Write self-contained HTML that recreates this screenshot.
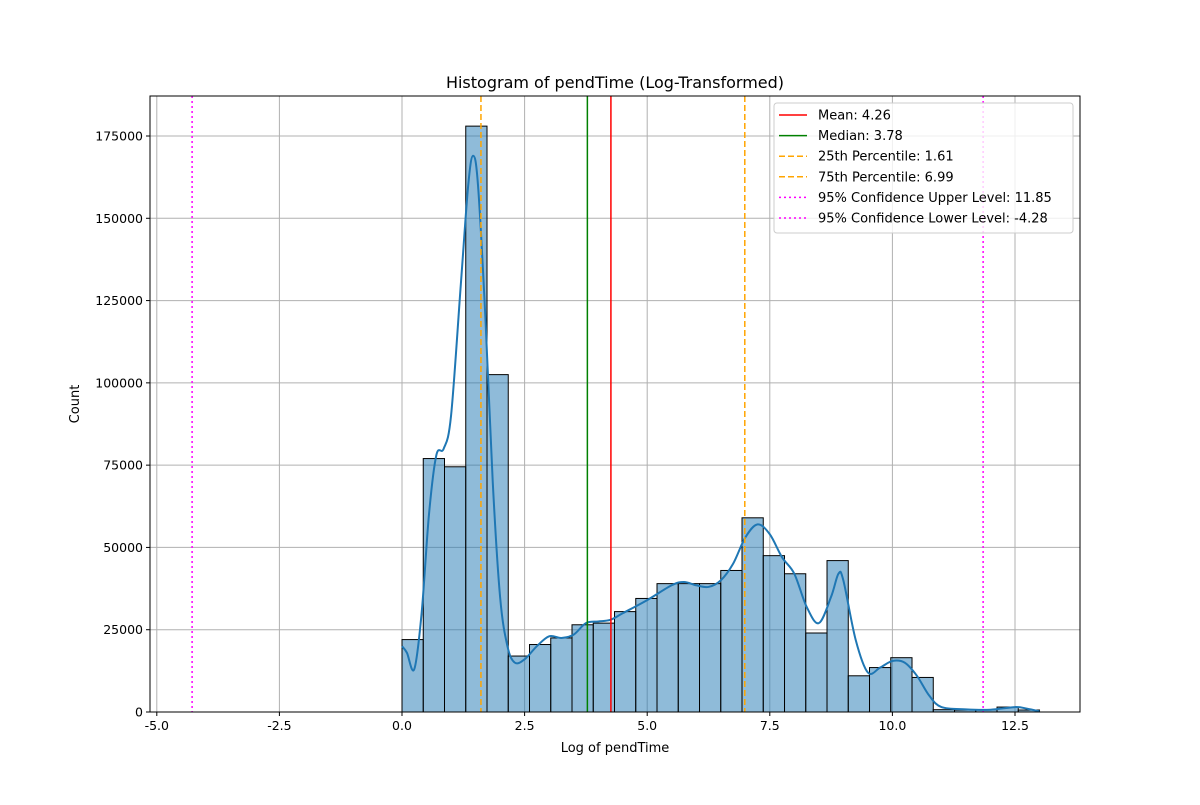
<!DOCTYPE html>
<html><head><meta charset="utf-8"><style>
body{margin:0;background:#fff;font-family:"Liberation Sans","DejaVu Sans",sans-serif;}
svg text{font-family:"DejaVu Sans","Liberation Sans",sans-serif;}
</style></head><body>
<svg id="chart" width="1200" height="800" viewBox="0 0 1200 800">
<rect width="1200" height="800" fill="#fff"/>
<g id="grid"></g><g id="bars"></g><g id="kde"></g><g id="vlines"></g><g id="axes"></g><g id="legend"></g>
</svg>
<script>
const binStart = 0, binWidth = 13/30;
const counts = [22000,77000,74500,178000,102500,17000,20500,22500,26500,27000,30500,34500,39000,39000,39000,43000,59000,47500,42000,24000,46000,11000,13500,16500,10500,700,600,700,1500,600];
const kdeX = [0,0.1,0.25,0.4,0.55,0.7,0.85,1.0,1.2,1.35,1.45,1.55,1.7,1.85,2.0,2.15,2.3,2.5,2.75,3.0,3.25,3.5,3.75,4.0,4.25,4.5,5.0,5.5,5.75,6.0,6.25,6.5,6.75,7.0,7.25,7.5,7.75,8.0,8.25,8.5,8.75,8.9,9.0,9.25,9.5,9.75,10.0,10.25,10.5,10.75,11.0,11.5,12.0,12.5,12.75,13.0];
const kdeY = [20000,18000,13000,30000,60000,78000,80000,90000,130000,160000,169000,160000,120000,70000,35000,20000,15000,16000,20000,23000,22500,23500,27000,27500,28000,30000,34000,38500,39500,38500,38000,40000,45000,53000,57000,54000,47000,42000,32000,27000,35000,42000,40000,22000,12000,13500,15500,15000,11000,5000,1500,800,700,1500,1000,200];
const xTicks = [-5,-2.5,0,2.5,5,7.5,10,12.5];
const yTicks = [0,25000,50000,75000,100000,125000,150000,175000];
const refNames = ["Mean: 4.26","Median: 3.78","25th Percentile: 1.61","75th Percentile: 6.99","95% Confidence Upper Level: 11.85","95% Confidence Lower Level: -4.28"];
const refValues = [4.26,3.78,1.61,6.99,11.85,-4.28];
const refColors = ["red","green","orange","orange","magenta","magenta"];
const refDash = ["","","6,3","6,3","2,3","2,3"];

const L=150,R=1080,T=96,B=712;
const X=v=>402+v*49.04;
const Y=v=>712-v*(576/175000);
const NS="http://www.w3.org/2000/svg";
function mk(tag,attrs,parent){const e=document.createElementNS(NS,tag);for(const k in attrs)e.setAttribute(k,attrs[k]);parent.appendChild(e);return e;}
const g=id=>document.getElementById(id);

xTicks.forEach(t=>{const l=mk('line',{x1:X(t),x2:X(t),y1:T,y2:B,stroke:'#b0b0b0','stroke-width':1},g('grid'));

});
yTicks.forEach(t=>{const l=mk('line',{x1:L,x2:R,y1:Y(t),y2:Y(t),stroke:'#b0b0b0','stroke-width':1},g('grid'));

});

counts.forEach((c,i)=>{const x0=X(binStart+i*binWidth),x1=X(binStart+(i+1)*binWidth);
const r=mk('rect',{x:x0,y:Y(c),width:x1-x0,height:Y(0)-Y(c),fill:'rgba(31,119,180,0.5)',stroke:'#000','stroke-width':1},g('bars'));

});

// Catmull-Rom smoothing of KDE
const pts=kdeX.map((x,i)=>[X(x),Y(kdeY[i])]);
let d=`M${pts[0][0]},${pts[0][1]}`;
for(let i=0;i<pts.length-1;i++){const p0=pts[Math.max(i-1,0)],p1=pts[i],p2=pts[i+1],p3=pts[Math.min(i+2,pts.length-1)];
d+=` C${p1[0]+(p2[0]-p0[0])/6},${p1[1]+(p2[1]-p0[1])/6} ${p2[0]-(p3[0]-p1[0])/6},${p2[1]-(p3[1]-p1[1])/6} ${p2[0]},${p2[1]}`;}
const kp=mk('path',{d:d,fill:'none',stroke:'#1f77b4','stroke-width':2},g('kde'));



refValues.forEach((v,i)=>{const a={x1:X(v),x2:X(v),y1:T,y2:B,stroke:refColors[i],'stroke-width':1.5};if(refDash[i])a['stroke-dasharray']=refDash[i];
const l=mk('line',a,g('vlines'));

});

const ax=g('axes');
const fr=mk('rect',{x:L,y:T,width:R-L,height:B-T,fill:'none',stroke:'#000','stroke-width':1},ax);


xTicks.forEach(t=>{mk('line',{x1:X(t),x2:X(t),y1:B,y2:B+4,stroke:'#000'},ax);
const tx=mk('text',{x:X(t),y:B+18,'text-anchor':'middle','font-size':12.5},ax);tx.textContent=t.toFixed(1);

});
yTicks.forEach(t=>{mk('line',{x1:L-4,x2:L,y1:Y(t),y2:Y(t),stroke:'#000'},ax);
const tx=mk('text',{x:L-7,y:Y(t)+4.5,'text-anchor':'end','font-size':12.5},ax);tx.textContent=t;

});
let t1=mk('text',{x:615,y:752,'text-anchor':'middle','font-size':13},ax);t1.textContent='Log of pendTime';


let t2=mk('text',{x:79,y:404,'text-anchor':'middle','font-size':13,transform:'rotate(-90 79 404)'},ax);t2.textContent='Count';


let t3=mk('text',{x:615,y:88,'text-anchor':'middle','font-size':16},ax);t3.textContent='Histogram of pendTime (Log-Transformed)';



const lg=g('legend');
const lb=mk('rect',{x:774,y:103,width:299,height:130,rx:3,fill:'rgba(255,255,255,0.8)',stroke:'#ccc'},lg);


refNames.forEach((n,i)=>{const y=115+i*20.6;
const a={x1:779,x2:807,y1:y,y2:y,stroke:refColors[i],'stroke-width':1.5};if(refDash[i])a['stroke-dasharray']=refDash[i];
mk('line',a,lg);
const tx=mk('text',{x:818,y:y+4.5,'font-size':13},lg);tx.textContent=n;

});
</script>
</body></html>
